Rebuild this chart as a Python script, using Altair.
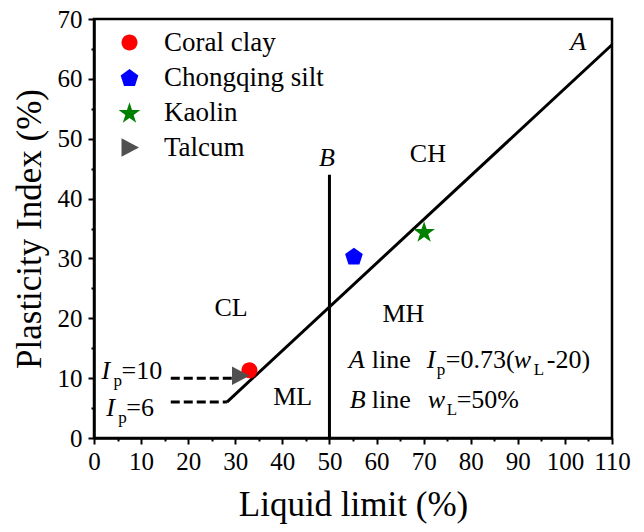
import altair as alt
import pandas as pd

FONT = "Liberation Serif"

# Plot geometry (plot area only) and axis ranges
W, H = 518, 419
X_MAX, Y_MAX = 110, 70
PX_X = X_MAX / W   # data units per pixel, x

# Soil samples
samples = ["Coral clay", "Chongqing silt", "Kaolin", "Talcum"]
liquid_limit = [33.0, 55.2, 70.1, 31.0]
plasticity_index = [11.3, 30.4, 34.5, 10.4]
colors = ["#FF0000", "#0000FF", "#008000", "#505050"]

# Marker outlines (unit = sqrt(size)/2 px)
circle = "M -0.8 0 A 0.8 0.8 0 1 0 0.8 0 A 0.8 0.8 0 1 0 -0.8 0 Z"
pentagon = ("M 0 -0.84 L 0.8845 -0.197 L 0.5466 0.842 "
            "L -0.5466 0.842 L -0.8845 -0.197 Z")
star = ("M 0 -1.03 L 0.256 -0.242 L 1.084 -0.242 L 0.414 0.245 "
        "L 0.670 1.032 L 0 0.546 L -0.670 1.032 L -0.414 0.245 "
        "L -1.084 -0.242 L -0.256 -0.242 Z")
triangle = "M -0.8 -0.92 L 0.95 0 L -0.8 0.92 Z"
shapes = [circle, pentagon, star, triangle]

# A line: Ip = 0.73 (wL - 20), drawn from Ip = 6 to wL = 110
a_slope, a_shift = 0.73, 20
a_ip_start, a_wl_end = 6, 110
# B line: wL = 50
b_wl, b_ip_top = 50, 44
# Ip = 10 and Ip = 6 reference dashes
dash_ip = [10, 6]
dash_wl_start = [16.3, 16.3]
dash_wl_end = [31.0, a_shift + a_ip_start / a_slope]

# Region names
zone_text = ["CH", "CL", "MH", "ML"]
zone_wl = [70.9, 29.1, 65.7, 42.2]
zone_ip = [46.1, 20.3, 19.45, 5.5]

# Line letters
letter_text = ["A", "B"]
letter_wl = [102.8, 49.45]
letter_ip = [64.9, 45.4]

sample_df = pd.DataFrame({"sample": samples, "wL": liquid_limit, "Ip": plasticity_index})

a_wl = [a_shift + a_ip_start / a_slope, a_wl_end]
a_df = pd.DataFrame({"wL": a_wl, "Ip": [a_slope * (w - a_shift) for w in a_wl]})
b_df = pd.DataFrame({"wL": [b_wl], "Ip": [0], "Ip2": [b_ip_top]})
dash_df = pd.DataFrame({"wL": dash_wl_start, "wL2": dash_wl_end, "Ip": dash_ip})
zone_df = pd.DataFrame({"t": zone_text, "wL": zone_wl, "Ip": zone_ip})
letter_df = pd.DataFrame({"t": letter_text, "wL": letter_wl, "Ip": letter_ip})


def pieces(anchor_wl, anchor_ip, parts):
    """Rich-text row: (text, pixel offset, style) pieces laid out from an anchor."""
    return [
        {"t": t, "wL": anchor_wl + dx * PX_X, "Ip": anchor_ip, "style": s}
        for t, dx, s in parts
    ]


rows = []
rows += pieces(54.1, 11.65, [("A", 0, "it"), ("line", 23, "rm"), ("I", 78, "it"),
                              ("p", 88, "sub"), ("=0.73(", 97, "rm"), ("w", 165, "it"),
                              ("L", 185, "sub"), ("-20)", 198, "rm")])
rows += pieces(54.3, 4.97, [("B", 0, "it"), ("line", 22, "rm"), ("w", 78, "it"),
                             ("L", 97, "sub"), ("=50%", 107, "rm")])
rows += pieces(1.6, 9.8, [("I", 0, "it"), ("p", 12, "sub"), ("=10", 20, "rm")])
rows += pieces(2.6, 3.6, [("I", 0, "it"), ("p", 12, "sub"), ("=6", 20, "rm")])
rich_df = pd.DataFrame(rows)

x_scale = alt.Scale(domain=[0, X_MAX], nice=False, zero=False)
y_scale = alt.Scale(domain=[0, Y_MAX], nice=False, zero=False)

major10 = "datum.value % 10 === 0"
x_axis = alt.Axis(
    values=list(range(0, X_MAX + 1, 5)),
    labelExpr=f"{major10} ? datum.label : ''",
    tickSize={"condition": {"test": major10, "value": 6}, "value": 3},
    labelOverlap=False, labelFlush=False, grid=False,
    labelFont=FONT, labelFontSize=25, labelColor="black", labelPadding=5,
    tickColor="black", tickWidth=2, domainColor="black", domainWidth=2.5,
    title="Liquid limit (%)", titleFont=FONT, titleFontSize=35,
    titleFontWeight="normal", titleColor="black",
    titleBaseline="alphabetic", titleY=77,
)
y_axis = alt.Axis(
    values=list(range(0, Y_MAX + 1, 5)),
    labelExpr=f"{major10} ? datum.label : ''",
    tickSize={"condition": {"test": major10, "value": 6}, "value": 3},
    labelOverlap=False, labelFlush=False, grid=False,
    labelFont=FONT, labelFontSize=25, labelColor="black", labelPadding=6,
    tickColor="black", tickWidth=2, domainColor="black", domainWidth=2.5,
    title="Plasticity Index (%)", titleFont=FONT, titleFontSize=35,
    titleFontWeight="normal", titleColor="black",
    titleBaseline="alphabetic", titleX=-54, titleY=H / 2,
)

X = alt.X("wL:Q", scale=x_scale, axis=x_axis)
Y = alt.Y("Ip:Q", scale=y_scale, axis=y_axis)

a_line = alt.Chart(a_df).mark_line(color="black", strokeWidth=3).encode(x=X, y=Y)
b_line = alt.Chart(b_df).mark_rule(color="black", strokeWidth=3).encode(
    x=X, y=Y, y2="Ip2:Q")
dashes = alt.Chart(dash_df).mark_rule(
    color="black", strokeWidth=3, strokeDash=[9, 4]).encode(x=X, x2="wL2:Q", y=Y)

sample_legend = alt.Legend(
    title=None, orient="none", legendX=22, legendY=10,
    labelFont=FONT, labelFontSize=27, labelColor="black",
    labelLimit=400, symbolSize=400, symbolStrokeWidth=0,
    symbolOpacity=1, rowPadding=7, labelOffset=21, padding=0)

points = alt.Chart(sample_df).mark_point(
    filled=True, size=400, opacity=1, strokeWidth=0).encode(
    x=X, y=Y,
    color=alt.Color("sample:N", sort=samples,
                    scale=alt.Scale(domain=samples, range=colors),
                    legend=sample_legend),
    shape=alt.Shape("sample:N", sort=samples,
                    scale=alt.Scale(domain=samples, range=shapes),
                    legend=sample_legend),
)

zones = alt.Chart(zone_df).mark_text(
    font=FONT, fontSize=26, color="black", align="center", baseline="alphabetic"
).encode(x=X, y=Y, text="t:N")
letters = alt.Chart(letter_df).mark_text(
    font=FONT, fontSize=26, fontStyle="italic", color="black",
    align="center", baseline="alphabetic"
).encode(x=X, y=Y, text="t:N")

rich = alt.Chart(rich_df)
rich_rm = rich.transform_filter("datum.style === 'rm'").mark_text(
    font=FONT, fontSize=26, color="black", align="left", baseline="alphabetic"
).encode(x=X, y=Y, text="t:N")
rich_it = rich.transform_filter("datum.style === 'it'").mark_text(
    font=FONT, fontSize=26, fontStyle="italic", color="black",
    align="left", baseline="alphabetic"
).encode(x=X, y=Y, text="t:N")
rich_sub = rich.transform_filter("datum.style === 'sub'").mark_text(
    font=FONT, fontSize=17, color="black", align="left", baseline="alphabetic", dy=7
).encode(x=X, y=Y, text="t:N")

chart = alt.layer(
    dashes, a_line, b_line, zones, letters, rich_rm, rich_it, rich_sub, points
).properties(
    width=W, height=H,
    padding={"left": 94, "top": 19, "right": 644 - 94 - W, "bottom": 532 - 19 - H},
    autosize=alt.AutoSizeParams(type="none"),
    background="white",
).configure_view(
    stroke="black", strokeWidth=2.5
).configure_legend(
    labelFont=FONT, labelFontSize=27, labelColor="black"
)

chart.save("out.html", embed_options={"renderer": "svg", "actions": False})
